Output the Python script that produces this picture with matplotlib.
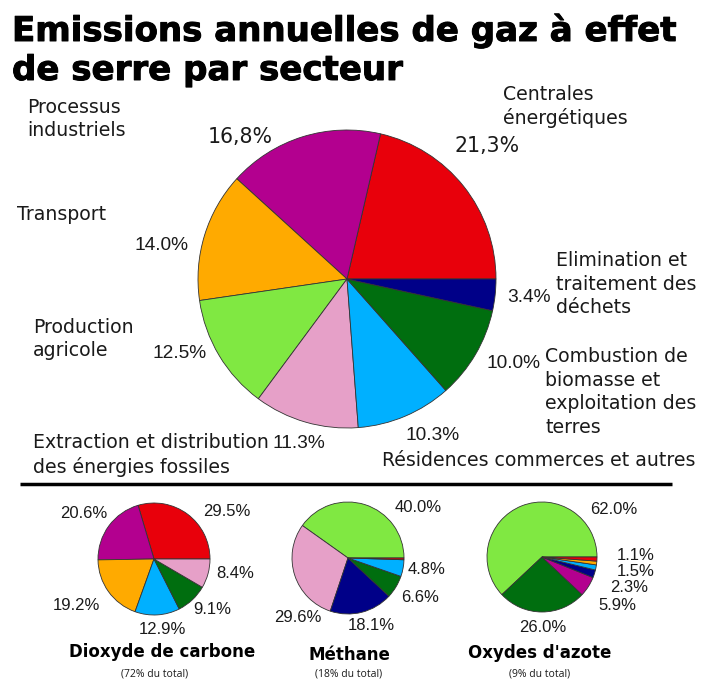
import matplotlib
matplotlib.use("Agg")
import matplotlib.pyplot as plt
import matplotlib.patheffects as pe

# ── Data ──────────────────────────────────────────────────────
SECTORS = ["Centrales énergétiques", "Processus industriels", "Transport",
           "Production agricole", "Extraction et distribution des énergies fossiles",
           "Résidences commerces et autres", "Combustion de biomasse",
           "Elimination et traitement des déchets"]
total_vals = [21.3, 16.8, 14.0, 12.5, 11.3, 10.3, 10.0, 3.4]

COLORS = {
    "red": "#E8000B", "purple": "#B3008F", "orange": "#FFAA00",
    "lgreen": "#80E842", "pink": "#E6A0C8", "lblue": "#00B0FF",
    "dgreen": "#006E0F", "navy": "#000088",
}
total_colors = ["red", "purple", "orange", "lgreen", "pink", "lblue", "dgreen", "navy"]

co2_vals = [29.5, 20.6, 19.2, 12.9, 9.1, 8.4]
co2_colors = ["red", "purple", "orange", "lblue", "dgreen", "pink"]

ch4_vals = [40.0, 29.6, 18.1, 6.6, 4.8, 0.5]
ch4_colors = ["lgreen", "pink", "navy", "dgreen", "lblue", "red"]

n2o_vals = [62.0, 26.0, 5.9, 2.3, 1.5, 1.1, 1.2]
n2o_colors = ["lgreen", "dgreen", "purple", "navy", "lblue", "orange", "red"]

W, H = 702, 682
TXT = "#1a1a1a"
LAB = "DejaVu Sans"
PCT = "Liberation Sans"

fig = plt.figure(figsize=(W / 100, H / 100), dpi=100)
ax = fig.add_axes([0, 0, 1, 1])
ax.axis("off")


def Y(y):
    # image pixel row -> data y
    return H - y


def pie(vals, cols, cx, cy, r):
    ax.pie(vals, colors=[COLORS[c] for c in cols], center=(cx, Y(cy)),
           radius=r, startangle=0, counterclock=True,
           wedgeprops=dict(edgecolor="#333333", linewidth=0.6))


def txt(x, y, s, size=13.6, family=LAB, ha="left", va="center", **kw):
    ax.text(x, Y(y), s, fontsize=size, family=family, ha=ha, va=va,
            color=TXT, linespacing=1.3, **kw)


# ── Title ─────────────────────────────────────────────────────
heavy = [pe.withStroke(linewidth=0.7, foreground="black")]
ax.text(12, Y(41), "Emissions annuelles de gaz à effet", fontsize=24.5,
        weight="bold", family=LAB, ha="left", va="baseline", color="black",
        path_effects=heavy)
ax.text(12, Y(80), "de serre par secteur", fontsize=24.5,
        weight="bold", family=LAB, ha="left", va="baseline", color="black",
        path_effects=heavy)

# ── Main pie ──────────────────────────────────────────────────
pie(total_vals, total_colors, 347, 279, 149)

txt(27, 119, "Processus\nindustriels")
txt(208, 137, "16,8%", size=14.8)
txt(503, 106.5, "Centrales\nénergétiques")
txt(455, 146, "21,3%", size=14.8)
txt(17, 215, "Transport")
txt(134, 246, "14.0%", size=13.8, family=PCT)
txt(33, 339, "Production\nagricole")
txt(153, 353, "12.5%", size=13.8, family=PCT)
txt(33, 455, "Extraction et distribution\ndes énergies fossiles")
txt(272, 443, "11.3%", size=13.8, family=PCT)
txt(433, 435, "10.3%", size=13.8, family=PCT, ha="center")
txt(382, 460, "Résidences commerces et autres")
txt(507, 297, "3.4%", size=13.8, family=PCT)
txt(556, 284, "Elimination et\ntraitement des\ndéchets")
txt(487, 364, "10.0%", size=13.8, family=PCT)
txt(545, 392, "Combustion de\nbiomasse et\nexploitation des\nterres")

# divider
ax.plot([20, 672], [Y(484), Y(484)], color="black", lw=2.5,
        solid_capstyle="butt")

# ── Small pies ────────────────────────────────────────────────
pie(co2_vals, co2_colors, 154, 559, 56)
pie(ch4_vals, ch4_colors, 348, 558, 56)
pie(n2o_vals, n2o_colors, 542, 557, 55)
ax.set_xlim(0, W)
ax.set_ylim(0, H)
ax.set_aspect("equal")

S = 12
txt(60, 514, "20.6%", size=S, family=PCT)
txt(203, 511, "29.5%", size=S, family=PCT)
txt(216, 573, "8.4%", size=S, family=PCT)
txt(53, 605, "19.2%", size=S, family=PCT)
txt(193, 609, "9.1%", size=S, family=PCT)
txt(162, 630, "12.9%", size=S, family=PCT, ha="center")

txt(395, 508, "40.0%", size=S, family=PCT)
txt(408, 570, "4.8%", size=S, family=PCT)
txt(401, 597, "6.6%", size=S, family=PCT)
txt(274, 618, "29.6%", size=S, family=PCT)
txt(348, 625, "18.1%", size=S, family=PCT)

txt(590, 510, "62.0%", size=S, family=PCT)
txt(617, 556, "1.1%", size=S, family=PCT)
txt(617, 571, "1.5%", size=S, family=PCT)
txt(610, 588, "2.3%", size=S, family=PCT)
txt(598, 606, "5.9%", size=S, family=PCT)
txt(543, 628, "26.0%", size=S, family=PCT, ha="center")

for x, name, share, yn in [(162, "Dioxyde de carbone", "(72% du total)", 652),
                            (349, "Méthane", "(18% du total)", 655),
                            (540, "Oxydes d'azote", "(9% du total)", 653)]:
    ax.text(x, Y(yn), name, fontsize=12, weight="bold", family=LAB,
            ha="center", va="center", color="black")
    ax.text(x - 7 if x == 162 else x, Y(674), share, fontsize=7.5,
            family="Open Sans", ha="center", va="center", color=TXT)

fig.savefig("out.png", dpi=100)
